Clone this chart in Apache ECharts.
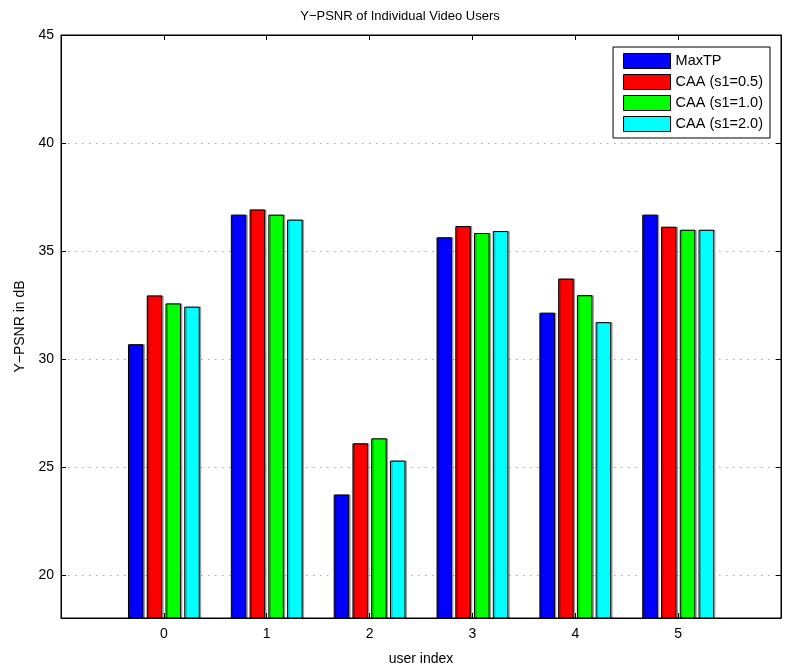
<!DOCTYPE html>
<html>
<head>
<meta charset="utf-8">
<script src="https://cdn.jsdelivr.net/npm/echarts@6/dist/echarts.min.js"></script>
<style>
  html, body { margin: 0; padding: 0; background: #fff; }
  #chart { width: 800px; height: 671px; }
</style>
</head>
<body>
<div id="chart"></div>
<script>
// user index, padded with -1 and 6 so the axis runs from -1 to 6 like the matlab plot
const users = ['-1', '0', '1', '2', '3', '4', '5', '6']
const seriesNames = ['MaxTP', 'CAA (s1=0.5)', 'CAA (s1=1.0)', 'CAA (s1=2.0)']
const maxTP = [30.68, 36.68, 23.72, 35.63, 32.14, 36.68]
const caa05 = [32.94, 36.92, 26.09, 36.15, 33.72, 36.12]
const caa10 = [32.57, 36.68, 26.32, 35.83, 32.95, 35.98]
const caa20 = [32.42, 36.45, 25.29, 35.92, 31.70, 35.98]
const colors = ['#0000ff', '#ff0000', '#00ff00', '#00ffff']

const font = 'Liberation Sans, Arial, Helvetica, sans-serif'
const pad = arr => [null].concat(arr, [null])

let chart = echarts.init(document.getElementById('chart'))

let series = [maxTP, caa05, caa10, caa20].map((vals, i) => ({
  name: seriesNames[i],
  type: 'bar',
  data: pad(vals),
  barWidth: 15.5,
  barGap: '21%',
  itemStyle: {
    color: colors[i],
    borderColor: '#000',
    borderWidth: 1,
    shadowColor: 'rgba(0,0,0,0.3)',
    shadowBlur: 0,
    shadowOffsetX: 1.5,
    shadowOffsetY: 0
  },
  emphasis: { disabled: true },
  animation: false
}))

let tickIdx = (idx) => idx > 0 && idx < users.length - 1

chart.setOption({
  animation: false,
  textStyle: { fontFamily: font },
  title: {
    text: 'Y\u2212PSNR of Individual Video Users',
    left: 'center',
    top: 5,
    textStyle: { fontSize: 13, fontWeight: 'normal', color: '#000', fontFamily: font }
  },
  legend: {
    orient: 'vertical',
    right: 30,
    top: 47,
    icon: 'rect',
    itemWidth: 47,
    itemHeight: 15,
    itemGap: 5,
    padding: [6, 7, 6, 10],
    borderColor: '#000',
    borderWidth: 1,
    backgroundColor: '#fff',
    itemStyle: { borderColor: '#000', borderWidth: 1, shadowBlur: 0, shadowOffsetX: 0 },
    textStyle: { fontSize: 14.5, color: '#000', fontFamily: font },
    data: seriesNames
  },
  grid: {
    left: 61,
    right: 19,
    top: 35,
    bottom: 48,
    show: true,
    borderColor: '#000',
    borderWidth: 1
  },
  xAxis: [
    {
      type: 'category',
      data: users,
      boundaryGap: false,
      name: 'user index',
      nameLocation: 'middle',
      nameGap: 34,
      nameTextStyle: { fontSize: 14, color: '#000', fontFamily: font },
      axisLine: { lineStyle: { color: '#000', width: 1 } },
      axisTick: { inside: true, length: 5, interval: tickIdx, lineStyle: { color: '#000' } },
      axisLabel: {
        interval: tickIdx,
        margin: 9,
        fontSize: 14,
        color: '#000',
        fontFamily: font,
        formatter: v => (v === '-1' || v === '6') ? '' : v
      },
      splitLine: { show: false }
    },
    {
      type: 'category',
      data: users,
      boundaryGap: false,
      position: 'top',
      axisLine: { lineStyle: { color: '#000', width: 1 } },
      axisTick: { inside: true, length: 5, interval: tickIdx, lineStyle: { color: '#000' } },
      axisLabel: { show: false },
      splitLine: { show: false }
    }
  ],
  yAxis: [
    {
      type: 'value',
      min: 18,
      max: 45,
      splitNumber: 5,
      name: 'Y\u2212PSNR in dB',
      nameLocation: 'middle',
      nameGap: 33,
      nameTextStyle: { fontSize: 14, color: '#000', fontFamily: font },
      axisLine: { show: true, lineStyle: { color: '#000', width: 1 } },
      axisTick: { show: true, inside: true, length: 5, lineStyle: { color: '#000' } },
      axisLabel: {
        margin: 7,
        fontSize: 14,
        color: '#000',
        fontFamily: font,
        formatter: v => (v % 5 === 0 ? String(v) : '')
      },
      splitLine: { show: true, lineStyle: { color: '#aaa', width: 1, type: [1.5, 5.5] } }
    },
    {
      type: 'value',
      min: 18,
      max: 45,
      splitNumber: 5,
      position: 'right',
      axisLine: { show: true, lineStyle: { color: '#000', width: 1 } },
      axisTick: { show: true, inside: true, length: 5, lineStyle: { color: '#000' } },
      axisLabel: { show: false },
      splitLine: { show: false }
    }
  ],
  series: series
})
</script>
</body>
</html>
